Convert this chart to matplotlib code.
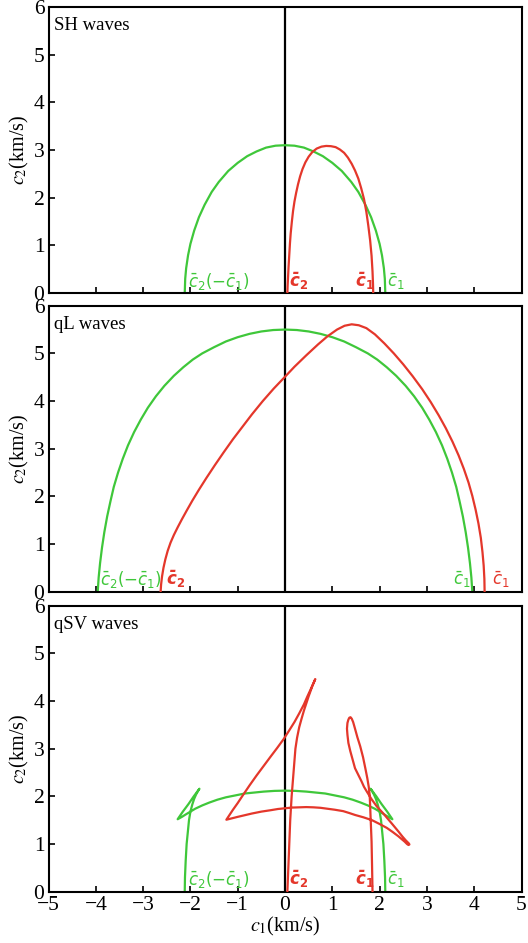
import matplotlib
matplotlib.use("Agg")
import matplotlib.pyplot as plt

plt.rcParams['font.family'] = ['Liberation Serif', 'DejaVu Serif']
plt.rcParams['mathtext.fontset'] = 'stix'

GREEN = '#3fc73a'
RED = '#e4372b'

# ---------------- SH waves ----------------
sh_green_x = [-2.12, -2.11, -2.09, -2.05, -2.00, -1.92, -1.82, -1.70, -1.55, -1.40, -1.20, -1.00,
              -0.80, -0.60, -0.40, -0.20, 0.0, 0.20, 0.40, 0.60, 0.80, 1.00, 1.20, 1.40, 1.55,
              1.70, 1.82, 1.92, 2.00, 2.05, 2.09, 2.11, 2.12]
sh_green_y = [0.0, 0.30, 0.52, 0.79, 1.03, 1.31, 1.59, 1.85, 2.12, 2.33, 2.56, 2.73,
              2.87, 2.97, 3.05, 3.09, 3.10, 3.09, 3.05, 2.97, 2.87, 2.73, 2.56, 2.33, 2.12,
              1.85, 1.59, 1.31, 1.03, 0.79, 0.52, 0.30, 0.0]
sh_red_x = [0.050, 0.055, 0.065, 0.075, 0.090, 0.105, 0.120, 0.145, 0.170, 0.200, 0.235, 0.275,
            0.320, 0.370, 0.430, 0.500, 0.580, 0.670, 0.770, 0.870, 0.970, 1.070, 1.160, 1.250,
            1.330, 1.410, 1.480, 1.550, 1.610, 1.670, 1.720, 1.760, 1.800, 1.830, 1.850, 1.860,
            1.865]
sh_red_y = [0.0, 0.15, 0.35, 0.55, 0.80, 1.05, 1.25, 1.50, 1.72, 1.92, 2.10, 2.28,
            2.45, 2.60, 2.74, 2.86, 2.96, 3.03, 3.07, 3.085, 3.08, 3.06, 3.01, 2.94,
            2.84, 2.71, 2.57, 2.40, 2.20, 1.97, 1.70, 1.42, 1.10, 0.78, 0.45, 0.20,
            0.0]

# ---------------- qL waves ----------------
ql_green_x = [-3.96, -3.94, -3.91, -3.87, -3.82, -3.76, -3.69, -3.62, -3.53, -3.43, -3.32, -3.19,
              -3.05, -2.90, -2.73, -2.55, -2.35, -2.15, -1.95, -1.75, -1.50, -1.25, -1.00, -0.75,
              -0.50, -0.25, 0.0, 0.25, 0.50, 0.75, 1.00, 1.25, 1.50, 1.75, 1.95, 2.15, 2.35,
              2.55, 2.73, 2.90, 3.05, 3.19, 3.32, 3.43, 3.53, 3.62, 3.69, 3.76, 3.82, 3.87,
              3.91, 3.94, 3.96]
ql_green_y = [0.0, 0.30, 0.60, 0.92, 1.25, 1.58, 1.90, 2.20, 2.50, 2.79, 3.07, 3.35,
              3.61, 3.86, 4.10, 4.32, 4.53, 4.71, 4.87, 5.00, 5.13, 5.25, 5.34, 5.41,
              5.46, 5.49, 5.50, 5.49, 5.46, 5.41, 5.34, 5.25, 5.13, 5.00, 4.87, 4.71, 4.53,
              4.32, 4.10, 3.86, 3.61, 3.35, 3.07, 2.79, 2.50, 2.20, 1.90, 1.58, 1.25, 0.92,
              0.60, 0.30, 0.0]
ql_red_x = [-2.630, -2.620, -2.600, -2.570, -2.530, -2.480, -2.420, -2.350, -2.270, -2.180,
            -2.080, -1.960, -1.820, -1.660, -1.480, -1.300, -1.100, -0.900, -0.700, -0.470,
            -0.240, 0.0, 0.200, 0.450, 0.700, 0.900, 1.100, 1.260, 1.410, 1.560, 1.720, 1.900,
            2.100, 2.300, 2.500, 2.700, 2.900, 3.080, 3.250, 3.400, 3.540, 3.670, 3.780, 3.880,
            3.960, 4.030, 4.090, 4.140, 4.175, 4.200, 4.215, 4.220]
ql_red_y = [0.0, 0.15, 0.32, 0.50, 0.68, 0.86, 1.03, 1.19, 1.35, 1.52,
            1.70, 1.91, 2.14, 2.39, 2.66, 2.92, 3.20, 3.46, 3.72, 4.00,
            4.26, 4.51, 4.72, 4.96, 5.19, 5.36, 5.50, 5.58, 5.61, 5.59, 5.53, 5.40,
            5.21, 5.00, 4.77, 4.52, 4.25, 3.98, 3.70, 3.43, 3.15, 2.86, 2.58, 2.29,
            2.01, 1.72, 1.43, 1.13, 0.83, 0.55, 0.27, 0.0]

# ---------------- qSV waves ----------------
sv_green_x = [2.12, 2.115, 2.10, 2.08, 2.055, 2.03, 2.00, 1.96, 1.92, 1.88, 1.84, 1.81,
              1.93, 2.04, 2.16, 2.27,
              2.18, 2.10, 2.00, 1.90, 1.75, 1.60, 1.43, 1.25, 1.05, 0.85, 0.65, 0.45, 0.22, 0.0,
              -0.22, -0.45, -0.65, -0.85, -1.05, -1.25, -1.43, -1.60, -1.75, -1.90, -2.00, -2.10,
              -2.18, -2.27,
              -2.16, -2.04, -1.93, -1.81, -1.84, -1.88, -1.92, -1.96, -2.00, -2.03, -2.055,
              -2.08, -2.10, -2.115, -2.12]
sv_green_y = [0.0, 0.30, 0.65, 1.00, 1.25, 1.50, 1.68, 1.83, 1.95, 2.04, 2.11, 2.16,
              2.00, 1.84, 1.68, 1.52,
              1.57, 1.62, 1.68, 1.74, 1.81, 1.87, 1.93, 1.98, 2.02, 2.06, 2.08, 2.10, 2.115, 2.12,
              2.115, 2.10, 2.08, 2.06, 2.02, 1.98, 1.93, 1.87, 1.81, 1.74, 1.68, 1.62,
              1.57, 1.52,
              1.68, 1.84, 2.00, 2.16, 2.11, 2.04, 1.95, 1.83, 1.68, 1.50, 1.25,
              1.00, 0.65, 0.30, 0.0]
sv_red_x = [0.05, 0.06, 0.07, 0.08, 0.09, 0.10, 0.11, 0.125, 0.14, 0.16, 0.18, 0.20, 0.22, 0.255,
            0.30, 0.35, 0.40, 0.45, 0.50, 0.54, 0.58, 0.61, 0.64,
            0.59, 0.54, 0.47, 0.40, 0.30, 0.20, 0.08, -0.03, -0.17, -0.30, -0.45, -0.60, -0.75,
            -0.90, -1.00, -1.10, -1.18, -1.24,
            -1.12, -1.00, -0.85, -0.70, -0.50, -0.30, -0.15, 0.0, 0.15, 0.30, 0.45, 0.60, 0.75,
            0.90, 1.05, 1.23, 1.36, 1.48, 1.66, 1.84, 2.00, 2.15, 2.28, 2.40, 2.47, 2.53, 2.58,
            2.61, 2.63, 2.62, 2.59, 2.55, 2.48, 2.40, 2.30, 2.19, 2.07, 1.94, 1.83, 1.73, 1.67,
            1.62, 1.55, 1.48, 1.43, 1.38, 1.34, 1.32, 1.31, 1.32, 1.34, 1.36, 1.385, 1.41,
            1.44, 1.48, 1.53, 1.59, 1.65, 1.70, 1.74, 1.77, 1.79, 1.80, 1.81, 1.82, 1.83,
            1.84, 1.845, 1.85]
sv_red_y = [0.0, 0.25, 0.50, 0.75, 1.00, 1.25, 1.50, 1.75, 2.00, 2.25, 2.50, 2.75, 3.00, 3.23,
            3.45, 3.63, 3.80, 3.95, 4.10, 4.21, 4.32, 4.39, 4.46,
            4.35, 4.24, 4.09, 3.93, 3.74, 3.56, 3.37, 3.20, 3.01, 2.84, 2.64, 2.44, 2.23,
            2.01, 1.86, 1.72, 1.60, 1.51,
            1.54, 1.57, 1.605, 1.64, 1.68, 1.71, 1.735, 1.75, 1.765, 1.77, 1.775, 1.77, 1.76,
            1.74, 1.72, 1.69, 1.65, 1.61, 1.56, 1.50, 1.42, 1.34, 1.25, 1.16, 1.10, 1.05, 1.00,
            0.98, 0.99, 1.01, 1.04, 1.08, 1.16, 1.26, 1.38, 1.51, 1.65, 1.79, 1.94, 2.10, 2.20,
            2.31, 2.45, 2.59, 2.77, 2.95, 3.12, 3.29, 3.42, 3.54, 3.61, 3.65, 3.66, 3.63,
            3.56, 3.42, 3.24, 3.05, 2.82, 2.58, 2.38, 2.20, 2.03, 1.80, 1.54, 1.30, 1.05,
            0.56, 0.28, 0.0]

panels = [
    ("SH waves", sh_green_x, sh_green_y, sh_red_x, sh_red_y),
    ("qL waves", ql_green_x, ql_green_y, ql_red_x, ql_red_y),
    ("qSV waves", sv_green_x, sv_green_y, sv_red_x, sv_red_y),
]

# end-point labels: (x, text, colour)
labels = [
    [(-2.05, r'$\bar{c}_2(-\bar{c}_1)$', GREEN), (0.09, r'$\mathbfit{\bar{c}}_\mathbf{2}$', RED),
     (1.47, r'$\mathbfit{\bar{c}}_\mathbf{1}$', RED), (2.16, r'$\bar{c}_1$', GREEN)],
    [(-3.92, r'$\bar{c}_2(-\bar{c}_1)$', GREEN), (-2.52, r'$\mathbfit{\bar{c}}_\mathbf{2}$', RED),
     (3.55, r'$\bar{c}_1$', GREEN), (4.38, r'$\bar{c}_1$', RED)],
    [(-2.05, r'$\bar{c}_2(-\bar{c}_1)$', GREEN), (0.09, r'$\mathbfit{\bar{c}}_\mathbf{2}$', RED),
     (1.47, r'$\mathbfit{\bar{c}}_\mathbf{1}$', RED), (2.16, r'$\bar{c}_1$', GREEN)],
]

fig = plt.figure(figsize=(5.28, 9.43), dpi=100)
left, width, height = 0.0919, 0.8958, 0.3033
bottoms = [0.6893, 0.3725, 0.0544]

for i, (title, gx, gy, rx, ry) in enumerate(panels):
    ax = fig.add_axes([left, bottoms[i], width, height])
    ax.set_xlim(-5, 5)
    ax.set_ylim(0, 6)
    ax.set_xticks(range(-5, 6))
    ax.set_yticks(range(0, 7))
    ax.tick_params(direction='in', length=4, width=1.2, top=False, right=False,
                   labelsize=15.5, pad=3, labelbottom=(i == 2))
    for sp in ax.spines.values():
        sp.set_linewidth(1.5)
    ax.axvline(0, color='k', lw=1.6, zorder=1.5)
    ax.plot(gx, gy, color=GREEN, lw=1.6, zorder=2, solid_joinstyle='round')
    ax.plot(rx, ry, color=RED, lw=1.6, zorder=3, solid_joinstyle='round')
    ax.text(0.012, 0.965, title, transform=ax.transAxes, ha='left', va='top', fontsize=13.5)
    ax.set_ylabel(r'$c_2$(km/s)', fontsize=14.5, labelpad=2)
    for x, s, col in labels[i]:
        ax.text(x, 0.03, s, color=col, fontsize=12, ha='left', va='bottom',
                math_fontfamily='dejavusans', zorder=4)
    if i == 2:
        ax.set_xlabel(r'$c_1$(km/s)', fontsize=14.5, labelpad=0)

fig.savefig('out.png', dpi=100)
